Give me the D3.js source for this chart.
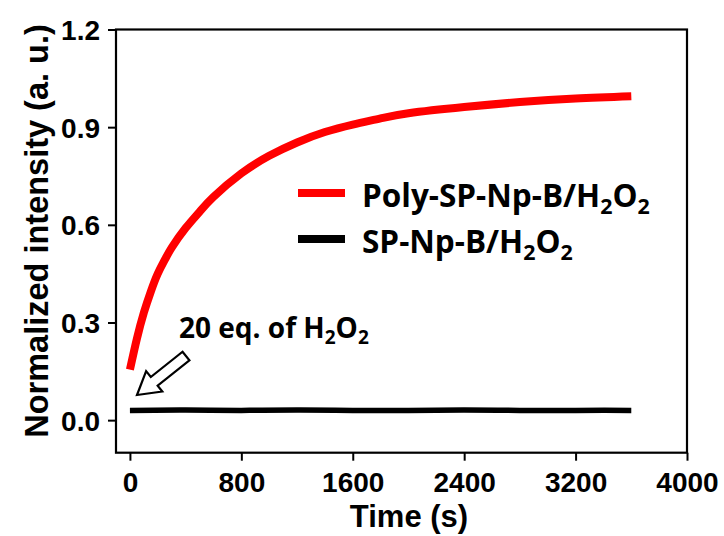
<!DOCTYPE html>
<html><head><meta charset="utf-8">
<script src="https://cdn.jsdelivr.net/npm/d3@7"></script>
<style>body{margin:0;background:#fff}</style>
</head><body>
<svg id="c" width="724" height="536"></svg>
<script>
// ---- data ----
const polyTimes = [0, 50, 100, 150, 200, 250, 300, 400, 500, 600, 800, 1000, 1200, 1400, 1600, 1800, 2000, 2400, 2800, 3200, 3600];
const polyValues = [0.155, 0.25, 0.33, 0.395, 0.45, 0.492, 0.53, 0.59, 0.64, 0.686, 0.758, 0.812, 0.853, 0.885, 0.908, 0.927, 0.943, 0.962, 0.977, 0.988, 0.995];
const spTimes = [0, 400, 800, 1200, 1600, 2000, 2400, 2800, 3200, 3600];
const spValues = [0.030, 0.031, 0.030, 0.031, 0.030, 0.030, 0.031, 0.030, 0.030, 0.030];
const xTicks = [0, 800, 1600, 2400, 3200, 4000];
const yTicks = [0.0, 0.3, 0.6, 0.9, 1.2];
const seriesNames = ["Poly-SP-Np-B/H", "SP-Np-B/H"];
const seriesColors = ["#ff0000", "#000000"];

const svg = d3.select("#c");
const L = 116, R = 687, T = 29.5, B = 452.7;
const x = d3.scaleLinear().domain([-100, 4000]).range([L, R]);
const y = d3.scaleLinear().domain([-0.1, 1.2]).range([B, T]);

const axisFont = "'Liberation Sans', Arial, sans-serif";
const legFont = "'Open Sans', Lato, sans-serif";

// axes
const xAxis = svg.append("g").attr("transform", `translate(0,${B})`)
  .call(d3.axisBottom(x).tickValues(xTicks).tickSize(8).tickSizeOuter(0).tickPadding(11).tickFormat(d3.format("d")));
const yAxis = svg.append("g").attr("transform", `translate(${L},0)`)
  .call(d3.axisLeft(y).tickValues(yTicks).tickSize(8).tickSizeOuter(0).tickPadding(8).tickFormat(d3.format(".1f")));
[xAxis, yAxis].forEach(g => {
  g.select(".domain").remove();
  g.selectAll(".tick line").attr("stroke", "#000").attr("stroke-width", 2);
  g.selectAll(".tick text").attr("fill", "#000").style("font-family", axisFont)
    .style("font-weight", "bold").style("font-size", "28px");
});
xAxis.selectAll(".tick text").attr("dy", "0.71em");
yAxis.selectAll(".tick text").attr("dy", "0.36em");

// frame
svg.append("rect").attr("x", L).attr("y", T).attr("width", R - L).attr("height", B - T)
  .attr("fill", "none").attr("stroke", "#000").attr("stroke-width", 2.2);

// series
const line = d3.line().x(d => x(d[0])).y(d => y(d[1])).curve(d3.curveNatural);
svg.append("path").datum(spTimes.map((t, i) => [t, spValues[i]]))
  .attr("d", line).attr("fill", "none").attr("stroke", seriesColors[1]).attr("stroke-width", 5.5);
svg.append("path").datum(polyTimes.map((t, i) => [t, polyValues[i]]))
  .attr("d", line).attr("fill", "none").attr("stroke", seriesColors[0]).attr("stroke-width", 8);

// axis titles
svg.append("text").attr("x", 409).attr("y", 527).attr("text-anchor", "middle")
  .style("font-family", axisFont).style("font-weight", "bold").style("font-size", "31px")
  .text("Time (s)");
svg.append("text").attr("transform", "translate(48,231) rotate(-90)").attr("text-anchor", "middle")
  .style("font-family", axisFont).style("font-weight", "bold").style("font-size", "32.5px")
  .text("Normalized intensity (a. u.)");

// legend
function h2o2(sel, prefix, size) {
  sel.append("tspan").text(prefix);
  sel.append("tspan").attr("dy", size * 0.22).style("font-size", (size * 0.68) + "px").text("2");
  sel.append("tspan").attr("dy", -size * 0.22).text("O");
  sel.append("tspan").attr("dy", size * 0.22).style("font-size", (size * 0.68) + "px").text("2");
}
const legY = [193, 239];
seriesNames.forEach((n, i) => {
  svg.append("line").attr("x1", 298).attr("x2", 345).attr("y1", legY[i]).attr("y2", legY[i])
    .attr("stroke", seriesColors[i]).attr("stroke-width", 8);
  const t = svg.append("text").attr("x", 362).attr("y", legY[i] + 14)
    .style("font-family", legFont).style("font-weight", "bold").style("font-size", "31.5px");
  h2o2(t, n, 31.5);
});

// annotation
const ann = svg.append("text").attr("x", 179).attr("y", 338)
  .style("font-family", legFont).style("font-weight", "bold").style("font-size", "28px");
h2o2(ann, "20 eq. of H", 28);

// hollow arrow
const tip = [137, 395], tail = [186, 356];
const ang = Math.atan2(tail[1] - tip[1], tail[0] - tip[0]) * 180 / Math.PI;
const len = Math.hypot(tail[0] - tip[0], tail[1] - tip[1]);
const hl = 22, hw = 13, sw = 5.5;
svg.append("path")
  .attr("transform", `translate(${tip[0]},${tip[1]}) rotate(${ang})`)
  .attr("d", `M0,0 L${hl},${-hw} L${hl},${-sw} L${len},${-sw} L${len},${sw} L${hl},${sw} L${hl},${hw} Z`)
  .attr("fill", "#fff").attr("stroke", "#000").attr("stroke-width", 2.2).attr("stroke-linejoin", "miter");
</script>
</body></html>
